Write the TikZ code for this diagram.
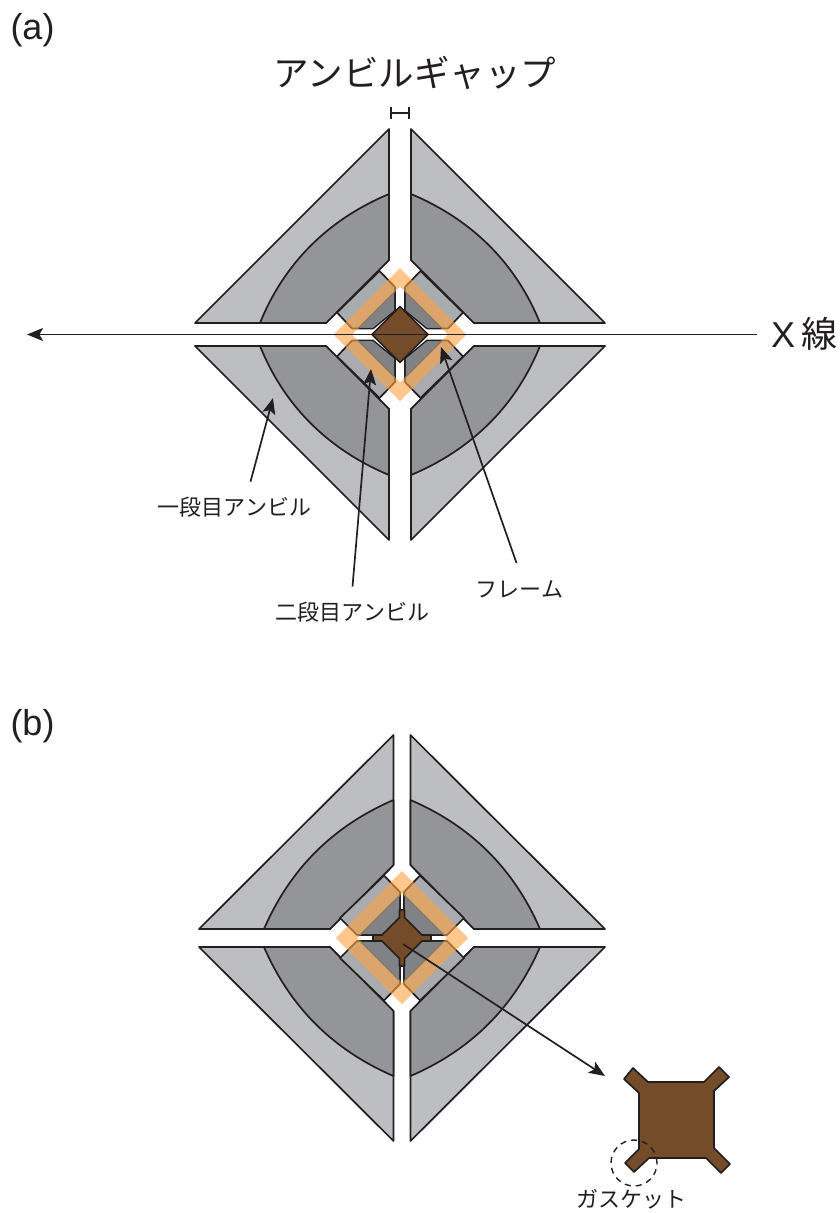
\documentclass[tikz,border=0pt]{standalone}
\usepackage{fontspec}
\setmainfont{Liberation Sans}
\newfontfamily\cjk{Noto Sans CJK JP}
\usetikzlibrary{arrows.meta}
\definecolor{ink}{HTML}{231F20}
\definecolor{anvilA}{HTML}{BCBEC2}
\definecolor{anvilB}{HTML}{939598}
\definecolor{anvilC}{HTML}{A9ABAE}
\definecolor{anvilD}{HTML}{808285}
\definecolor{gasket}{HTML}{754C29}
\definecolor{frameO}{HTML}{FFA23F}
\definecolor{frameE}{HTML}{8A7A63}
\tikzset{
  x=1pt,y=-1pt,
  outline/.style={draw=ink,line width=1.7pt,line join=round},
  firstA/.style={outline,fill=anvilA},
  firstB/.style={outline,fill=anvilB},
  secondA/.style={outline,fill=anvilC},
  secondB/.style={fill=anvilD},
  frameband/.style={fill=frameO,fill opacity=.6,even odd rule},
  frameedge/.style={draw=frameE,line width=1.4pt},
  gasketfill/.style={outline,fill=gasket},
  callout/.style={draw=ink,line width=1.7pt,-{Stealth[length=16pt,width=13pt,inset=3.5pt]}},
  tag/.style={font=\cjk\fontsize{22}{24}\selectfont,text=ink,inner sep=0pt},
  panel/.style={font=\fontsize{36}{38}\selectfont,text=ink,inner sep=0pt},
}
\begin{document}
\begin{tikzpicture}
\useasboundingbox (0,0) rectangle (840,1213);
% panel (a)
\begin{scope}[shift={(400,334.5)}]
  \foreach \sx/\sy in {1/1,-1/1,1/-1,-1/-1}{
    \begin{scope}[xscale=\sx,yscale=\sy]
      \path[firstA] (-11,-205.5) -- (-205,-11.5) -- (-74,-11.5) -- (-11,-74.5) -- cycle;
      \path[firstB] (-11,-140.5) .. controls (-72,-115) and (-116,-71) .. (-140,-11.5) -- (-74,-11.5) -- (-11,-74.5) -- cycle;
      \path[secondA] (-20.5,-63.5) -- (-5,-47.5) -- (-5,-24) -- (-27,-6) -- (-48,-6) -- (-63,-22) -- cycle;
      \path[secondB] (-5.8,-42.5) -- (-5.8,-24.5) -- (-27,-6.8) -- (-41.5,-6.8) -- cycle;
    \end{scope}
  }
  \path[frameband] (0,-66.5) -- (66.5,0) -- (0,66.5) -- (-66.5,0) -- cycle
    (0,-48) -- (-48,0) -- (0,48) -- (48,0) -- cycle;
  \foreach \sx/\sy in {1/1,-1/1,1/-1,-1/-1}{
    \draw[frameedge,xscale=\sx,yscale=\sy] (-5,-43) -- (-42,-6);
  }
  \path[gasketfill] (0,-28) -- (28,0) -- (0,28) -- (-28,0) -- cycle;
\end{scope}
% panel (b)
\begin{scope}[shift={(402,938)}]
  \foreach \sx/\sy in {1/1,-1/1,1/-1,-1/-1}{
    \begin{scope}[xscale=\sx,yscale=\sy]
      \path[firstA] (-8.5,-203) -- (-203,-9) -- (-72,-9) -- (-8.5,-73) -- cycle;
      \path[firstB] (-8.5,-138) .. controls (-69,-112) and (-112,-69) .. (-138,-9) -- (-72,-9) -- (-8.5,-73) -- cycle;
      \path[secondA] (-18,-62.5) -- (-2,-46) -- (-2,-3) -- (-45,-3) -- (-62,-20) -- cycle;
      \path[secondB] (-2.8,-42) -- (-2.8,-3.8) -- (-41,-3.8) -- cycle;
    \end{scope}
  }
  \path[frameband] (0,-67) -- (66,0) -- (0,66) -- (-66,0) -- cycle
    (0,-45) -- (-45,0) -- (0,45) -- (45,0) -- cycle;
  \foreach \sx/\sy in {1/1,-1/1,1/-1,-1/-1}{
    \draw[frameedge,xscale=\sx,yscale=\sy] (-2,-43) -- (-42,-3);
  }
  \path[gasketfill] (-2.5,-28) -- (2.5,-28) -- (2.5,-20.5) -- (20,-3) -- (29,-3) -- (29,3) -- (20,3)
    -- (2.5,20.5) -- (2.5,28) -- (-2.5,28) -- (-2.5,20.5) -- (-20,3) -- (-29,3) -- (-29,-3) -- (-20,-3) -- (-2.5,-20.5) -- cycle;
\end{scope}
% enlarged gasket
\path[gasketfill] (648,1082) -- (633,1068) -- (624,1079) -- (639,1093) -- (639,1149) -- (625,1163) -- (634,1172)
  -- (649,1158) -- (706,1158) -- (721,1173) -- (730,1164) -- (714,1148) -- (714,1091) -- (729,1077) -- (719,1067) -- (704,1082) -- cycle;
\node[circle,draw=ink,line width=1.4pt,dash pattern=on 6pt off 5pt,minimum size=46pt,inner sep=0pt] (ring) at (634,1163) {};
% labels
\node[panel] (pa) at (32.5,30) {(a)};
\node[panel] (pb) at (32.5,726) {(b)};
\node[tag,font=\cjk\fontsize{35.5}{40}\selectfont] (gap) at (415,73) {アンビルギャップ};
\node[tag,font=\fontsize{36}{40}\selectfont,anchor=west] (xray) at (771,334) {X\hspace{6pt}{\cjk 線}};
\node[tag] (first) at (234.5,507) {一段目アンビル};
\node[tag] (second) at (352.5,612) {二段目アンビル};
\node[tag] (frame) at (519.5,589) {フレーム};
\node[tag] (gk) at (631,1199) {ガスケット};
% connectors
\coordinate (gapL) at (390,113);
\coordinate (gapR) at (410,113);
\draw[draw=ink,line width=1.7pt,{Bar[width=12pt,length=0pt]}-{Bar[width=12pt,length=0pt]}] (gapL) -- (gapR);
\coordinate (xs) at (757,334.5);
\coordinate (xe) at (27,334.5);
\draw[callout] (xs) -- (xe);
\coordinate (t1) at (273,398);
\coordinate (t2) at (371,369);
\coordinate (t3) at (441,347);
\coordinate (t4) at (605,1076);
\coordinate (s4) at (403,944);
\draw[callout] (first.north) ++(16,-15) coordinate (s1) -- (t1);
\draw[callout] (second.north) ++(0,-15) coordinate (s2) -- (t2);
\draw[callout] (frame.north) ++(-3,-17) coordinate (s3) -- (t3);
\draw[callout] (s4) -- (t4);
\end{tikzpicture}
\end{document}
